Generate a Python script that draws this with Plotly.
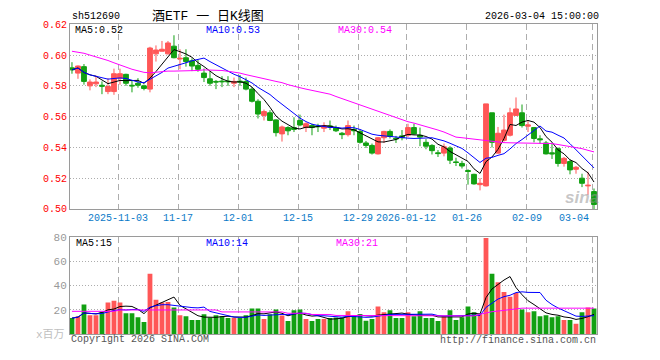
import plotly.graph_objects as go
import pandas as pd

# ---------------- data ----------------
dates = [
    "2025-10-22", "2025-10-23", "2025-10-24", "2025-10-27", "2025-10-28", "2025-10-29", "2025-10-30", "2025-10-31",
    "2025-11-03", "2025-11-04", "2025-11-05", "2025-11-06", "2025-11-07",
    "2025-11-10", "2025-11-11", "2025-11-12", "2025-11-13", "2025-11-14",
    "2025-11-17", "2025-11-18", "2025-11-19", "2025-11-20", "2025-11-21",
    "2025-11-24", "2025-11-25", "2025-11-26", "2025-11-27", "2025-11-28",
    "2025-12-01", "2025-12-02", "2025-12-03", "2025-12-04", "2025-12-05",
    "2025-12-08", "2025-12-09", "2025-12-10", "2025-12-11", "2025-12-12",
    "2025-12-15", "2025-12-16", "2025-12-17", "2025-12-18", "2025-12-19",
    "2025-12-22", "2025-12-23", "2025-12-24", "2025-12-25", "2025-12-26",
    "2025-12-29", "2025-12-30", "2025-12-31",
    "2026-01-05", "2026-01-06", "2026-01-07", "2026-01-08", "2026-01-09",
    "2026-01-12", "2026-01-13", "2026-01-14", "2026-01-15", "2026-01-16",
    "2026-01-19", "2026-01-20", "2026-01-21", "2026-01-22", "2026-01-23",
    "2026-01-26", "2026-01-27", "2026-01-28", "2026-01-29", "2026-01-30",
    "2026-02-02", "2026-02-03", "2026-02-04", "2026-02-05", "2026-02-06",
    "2026-02-09", "2026-02-10", "2026-02-11", "2026-02-12", "2026-02-13",
    "2026-02-24", "2026-02-25", "2026-02-26", "2026-02-27",
    "2026-03-02", "2026-03-03", "2026-03-04",
]

open_ = [0.5917, 0.5883, 0.5925, 0.5800, 0.5813, 0.5804, 0.5763, 0.5763, 0.5850, 0.5875,
         0.5804, 0.5817, 0.5800, 0.5779, 0.6008, 0.6025, 0.6008, 0.6058, 0.5975, 0.5983,
         0.5963, 0.5933, 0.5883, 0.5846, 0.5829, 0.5831, 0.5831, 0.5817, 0.5831, 0.5829,
         0.5779, 0.5700, 0.5608, 0.5625, 0.5579, 0.5488, 0.5529, 0.5529, 0.5575, 0.5529,
         0.5542, 0.5540, 0.5525, 0.5540, 0.5529, 0.5492, 0.5483, 0.5517, 0.5504, 0.5429,
         0.5413, 0.5358, 0.5463, 0.5504, 0.5460, 0.5475, 0.5479, 0.5529, 0.5479, 0.5433,
         0.5413, 0.5365, 0.5363, 0.5396, 0.5306, 0.5296, 0.5250, 0.5225, 0.5158, 0.5150,
         0.5625, 0.5363, 0.5446, 0.5479, 0.5608, 0.5625, 0.5538, 0.5529, 0.5456, 0.5429,
         0.5365, 0.5392, 0.5296, 0.5308, 0.5258, 0.5200, 0.5150, 0.5113]

high = [0.5954, 0.5933, 0.5942, 0.5842, 0.5867, 0.5829, 0.5850, 0.5912, 0.5912, 0.5879,
        0.5838, 0.5850, 0.5808, 0.6054, 0.6063, 0.6092, 0.6092, 0.6129, 0.6038, 0.6038,
        0.5979, 0.5971, 0.5913, 0.5896, 0.5838, 0.5863, 0.5863, 0.5854, 0.5871, 0.5854,
        0.5792, 0.5713, 0.5646, 0.5642, 0.5583, 0.5542, 0.5538, 0.5596, 0.5613, 0.5563,
        0.5554, 0.5554, 0.5563, 0.5575, 0.5542, 0.5500, 0.5575, 0.5542, 0.5517, 0.5442,
        0.5425, 0.5467, 0.5508, 0.5517, 0.5475, 0.5513, 0.5554, 0.5554, 0.5529, 0.5454,
        0.5421, 0.5383, 0.5425, 0.5408, 0.5333, 0.5313, 0.5258, 0.5229, 0.5200, 0.5683,
        0.5625, 0.5533, 0.5613, 0.5658, 0.5725, 0.5679, 0.5571, 0.5533, 0.5479, 0.5442,
        0.5425, 0.5400, 0.5338, 0.5321, 0.5279, 0.5229, 0.5242, 0.5133]

low = [0.5879, 0.5846, 0.5808, 0.5771, 0.5792, 0.5746, 0.5746, 0.5742, 0.5808, 0.5800,
       0.5758, 0.5788, 0.5771, 0.5758, 0.5958, 0.6025, 0.6004, 0.5979, 0.5908, 0.5925,
       0.5896, 0.5892, 0.5825, 0.5800, 0.5779, 0.5792, 0.5800, 0.5792, 0.5800, 0.5771,
       0.5692, 0.5588, 0.5575, 0.5571, 0.5471, 0.5438, 0.5479, 0.5500, 0.5538, 0.5500,
       0.5479, 0.5500, 0.5500, 0.5513, 0.5500, 0.5454, 0.5471, 0.5479, 0.5425, 0.5396,
       0.5354, 0.5354, 0.5429, 0.5458, 0.5429, 0.5446, 0.5467, 0.5483, 0.5408, 0.5388,
       0.5354, 0.5338, 0.5342, 0.5292, 0.5279, 0.5263, 0.5158, 0.5158, 0.5121, 0.5146,
       0.5400, 0.5358, 0.5438, 0.5471, 0.5604, 0.5529, 0.5500, 0.5433, 0.5425, 0.5354,
       0.5325, 0.5275, 0.5275, 0.5225, 0.5229, 0.5142, 0.5092, 0.4996]

close = [0.5904, 0.5929, 0.5829, 0.5825, 0.5825, 0.5798, 0.5796, 0.5879, 0.5879, 0.5817,
         0.5800, 0.5804, 0.5783, 0.6046, 0.6033, 0.6038, 0.6079, 0.5983, 0.5979, 0.5958,
         0.5929, 0.5908, 0.5854, 0.5817, 0.5825, 0.5827, 0.5827, 0.5829, 0.5825, 0.5779,
         0.5700, 0.5617, 0.5633, 0.5575, 0.5496, 0.5533, 0.5508, 0.5517, 0.5546, 0.5554,
         0.5529, 0.5535, 0.5542, 0.5533, 0.5508, 0.5483, 0.5542, 0.5508, 0.5433, 0.5413,
         0.5363, 0.5463, 0.5504, 0.5471, 0.5456, 0.5463, 0.5529, 0.5488, 0.5467, 0.5408,
         0.5379, 0.5360, 0.5404, 0.5317, 0.5302, 0.5279, 0.5244, 0.5163, 0.5167, 0.5683,
         0.5433, 0.5492, 0.5513, 0.5625, 0.5650, 0.5542, 0.5546, 0.5458, 0.5450, 0.5358,
         0.5358, 0.5296, 0.5329, 0.5254, 0.5271, 0.5167, 0.5154, 0.5029]

# volume in millions
volume = [13.2, 14.8, 24.4, 15.6, 15.6, 18.5, 26.0, 27.6, 26.0, 17.2,
          17.2, 14.0, 10.0, 49.8, 28.4, 26.0, 26.5, 22.0, 15.6, 14.8,
          11.7, 11.7, 16.4, 13.8, 15.6, 14.8, 13.2, 13.2, 13.2, 15.6,
          21.2, 21.2, 12.5, 16.4, 20.4, 15.4, 10.9, 19.6, 20.4, 12.5,
          10.9, 12.5, 12.5, 13.2, 13.8, 13.8, 18.8, 15.6, 16.4, 11.1,
          12.5, 22.8, 18.0, 19.6, 13.2, 13.2, 18.0, 14.8, 18.8, 13.2,
          13.2, 10.9, 14.8, 19.6, 11.7, 14.0, 22.8, 18.0, 16.4, 79.2,
          49.8, 42.7, 34.7, 30.7, 33.9, 20.4, 18.0, 18.8, 14.8, 15.6,
          14.0, 14.8, 11.7, 11.7, 8.5, 18.0, 22.0, 21.2]

# 30-day moving averages as drawn (need history before the window)
price_ma30 = [0.6025, 0.6019, 0.6012, 0.6000, 0.5990, 0.5979, 0.5965, 0.5950, 0.5938, 0.5922,
              0.5908, 0.5898, 0.5888, 0.5885, 0.5890, 0.5894, 0.5896, 0.5896, 0.5896, 0.5896,
              0.5898, 0.5900, 0.5904, 0.5904, 0.5902, 0.5900, 0.5895, 0.5890, 0.5883, 0.5873,
              0.5863, 0.5854, 0.5846, 0.5838, 0.5829, 0.5821, 0.5808, 0.5796, 0.5788, 0.5779,
              0.5771, 0.5763, 0.5754, 0.5746, 0.5731, 0.5717, 0.5703, 0.5689, 0.5675, 0.5661,
              0.5647, 0.5633, 0.5619, 0.5604, 0.5592, 0.5579, 0.5567, 0.5558, 0.5548, 0.5538,
              0.5525, 0.5513, 0.5500, 0.5483, 0.5467, 0.5463, 0.5458, 0.5454, 0.5448, 0.5442,
              0.5438, 0.5433, 0.5431, 0.5430, 0.5429, 0.5429, 0.5429, 0.5429, 0.5429, 0.5427,
              0.5425, 0.5419, 0.5413, 0.5406, 0.5399, 0.5392, 0.5381, 0.5371]

vol_ma30 = [18.8, 18.8, 18.8, 18.8, 18.8, 18.8, 18.8, 18.8, 19.9, 19.9,
            19.9, 19.9, 19.9, 19.9, 19.9, 19.9, 19.9, 19.9, 19.9, 19.9,
            19.9, 19.9, 19.9, 19.9, 19.9, 18.3, 18.3, 18.3, 18.3, 18.3,
            18.3, 18.3, 18.3, 18.3, 18.3, 18.3, 17.2, 17.2, 17.2, 17.2,
            16.2, 16.2, 16.2, 16.2, 15.4, 15.4, 15.4, 15.4, 14.8, 14.8,
            14.8, 14.8, 14.8, 14.8, 14.8, 14.8, 14.8, 14.8, 14.8, 14.8,
            14.8, 14.8, 14.8, 14.8, 14.8, 14.8, 14.9, 15.0, 16.4, 17.5,
            18.5, 19.0, 19.6, 20.4, 21.2, 21.4, 21.4, 21.4, 21.4, 21.4,
            21.4, 21.4, 21.4, 21.4, 21.4, 21.4, 21.4, 21.4]

tick_dates = ["2025-11-03", "2025-11-17", "2025-12-01", "2025-12-15", "2025-12-29",
              "2026-01-12", "2026-01-26", "2026-02-09", "2026-03-04"]
tick_labels = ["2025-11-03", "11-17", "12-01", "12-15", "12-29",
               "2026-01-12", "01-26", "02-09", "03-04"]
price_ticks = [0.50, 0.52, 0.54, 0.56, 0.58, 0.60, 0.62]
vol_ticks = [20, 40, 60, 80]

price_legend = ["MA5:0.52", "MA10:0.53", "MA30:0.54"]
vol_legend = ["MA5:15", "MA10:14", "MA30:21"]

# ---------------- styling ----------------
W, H = 660, 360
ML, MR = 70, 63
PW = W - ML - MR
RED = "#ff5757"
GREEN = "#12a012"
GRID = "#adadad"
BORDER = "#9a9a9a"
XBLUE = "#0a7ac8"
MONO = "Liberation Mono, DejaVu Sans Mono, monospace"
CJK = "Liberation Mono, Noto Sans CJK SC, monospace"


def px_x(px):
    return (px - ML) / PW


def px_y(py):
    return 1 - py / H


xs = list(range(len(dates)))
ma5 = pd.Series(close).rolling(5, min_periods=1).mean()
ma10 = pd.Series(close).rolling(10, min_periods=1).mean()
vma5 = pd.Series(volume).rolling(5, min_periods=1).mean()
vma10 = pd.Series(volume).rolling(10, min_periods=1).mean()
vol_colors = [RED if c >= o else GREEN for o, c in zip(open_, close)]

grid_pos = [dates.index(d) - 0.25 for d in tick_dates]

fig = go.Figure()

fig.add_trace(go.Candlestick(
    x=xs, open=open_, high=high, low=low, close=close,
    increasing=dict(line=dict(color=RED, width=1), fillcolor=RED),
    decreasing=dict(line=dict(color=GREEN, width=1), fillcolor=GREEN),
    whiskerwidth=0, showlegend=False, xaxis="x", yaxis="y", hoverinfo="skip",
))
for series, col in [(ma5, "#000000"), (ma10, "#0000ff"), (price_ma30, "#ff00ff")]:
    fig.add_trace(go.Scatter(x=xs, y=list(series), mode="lines",
                             line=dict(color=col, width=1), showlegend=False,
                             xaxis="x", yaxis="y", hoverinfo="skip"))

fig.add_trace(go.Bar(x=xs, y=volume, marker=dict(color=vol_colors, line=dict(width=0)),
                     width=0.8, showlegend=False, xaxis="x2", yaxis="y2", hoverinfo="skip"))
for series, col in [(vma5, "#000000"), (vma10, "#0000ff"), (vol_ma30, "#ff00ff")]:
    fig.add_trace(go.Scatter(x=xs, y=list(series), mode="lines",
                             line=dict(color=col, width=1), showlegend=False,
                             xaxis="x2", yaxis="y2", hoverinfo="skip"))

xcommon = dict(
    range=[-0.33, 87.5], tickvals=grid_pos, showticklabels=False, ticks="",
    showgrid=True, gridcolor=GRID, griddash="6px,4px", gridwidth=1,
    showline=True, mirror=True, linecolor=BORDER, linewidth=1, zeroline=False,
    fixedrange=True,
)

fig.update_layout(
    width=W, height=H,
    margin=dict(l=ML, r=MR, t=0, b=0),
    paper_bgcolor="white", plot_bgcolor="white",
    boxgap=0.2, boxgroupgap=0,
    bargap=0.2,
    xaxis=dict(**xcommon, anchor="y", domain=[0, 1], rangeslider=dict(visible=False)),
    xaxis2=dict(**xcommon, anchor="y2", domain=[0, 1], matches="x"),
    yaxis=dict(
        domain=[px_y(211), px_y(20)], range=[0.50, 0.62],
        tickvals=price_ticks, ticktext=["%.2f" % v for v in price_ticks],
        tickfont=dict(family=MONO, size=10, color="#ff0000"),
        showgrid=True, gridcolor=GRID, griddash="1px,2px", gridwidth=1,
        showline=True, mirror=True, linecolor=BORDER, linewidth=1, zeroline=False,
        ticks="", fixedrange=True,
    ),
    yaxis2=dict(
        domain=[px_y(340.5), px_y(240)], range=[0, 80],
        tickvals=vol_ticks, ticktext=[str(v) for v in vol_ticks],
        tickfont=dict(family=MONO, size=11, color="#999999"),
        showgrid=True, gridcolor=GRID, griddash="1px,2px", gridwidth=1,
        showline=True, mirror=True, linecolor=BORDER, linewidth=1, zeroline=False,
        ticks="", fixedrange=True,
    ),
)

ann = []
# x labels
for i, (pos, lab) in enumerate(zip(grid_pos, tick_labels)):
    last = i == len(tick_labels) - 1
    ann.append(dict(x=pos, xref="x", y=px_y(221), yref="paper", text=lab, showarrow=False,
                    xanchor="right" if last else "center", yanchor="middle",
                    xshift=-2 if last else 0,
                    font=dict(family=MONO, size=10, color=XBLUE)))
# header
ann.append(dict(x=px_x(70), y=px_y(12), xref="paper", yref="paper", text="sh512690",
                showarrow=False, xanchor="left", yanchor="middle",
                font=dict(family=MONO, size=10, color="#000")))
ann.append(dict(x=px_x(150), y=px_y(12), xref="paper", yref="paper", text="酒ETF 一 日K线图",
                showarrow=False, xanchor="left", yanchor="middle",
                font=dict(family=CJK, size=13, color="#000")))
ann.append(dict(x=px_x(601), y=px_y(12), xref="paper", yref="paper", text="2026-03-04 15:00:00",
                showarrow=False, xanchor="right", yanchor="middle",
                font=dict(family=MONO, size=10, color="#000")))
# MA legends
for txt, xp, col in zip(price_legend, [73, 204, 336], ["#000", "#0000ff", "#ff00ff"]):
    ann.append(dict(x=px_x(xp), y=px_y(26.5), xref="paper", yref="paper", text=txt,
                    showarrow=False, xanchor="left", yanchor="middle",
                    font=dict(family=MONO, size=10, color=col)))
for txt, xp, col in zip(vol_legend, [74, 204, 334], ["#000", "#0000ff", "#ff00ff"]):
    ann.append(dict(x=px_x(xp), y=px_y(246.5), xref="paper", yref="paper", text=txt,
                    showarrow=False, xanchor="left", yanchor="middle",
                    font=dict(family=MONO, size=10, color=col)))
# unit & footer
ann.append(dict(x=px_x(67), y=px_y(341), xref="paper", yref="paper", text="x百万",
                showarrow=False, xanchor="right", yanchor="middle",
                font=dict(family=CJK, size=11, color="#c0c0c0")))
ann.append(dict(x=px_x(69), y=px_y(346), xref="paper", yref="paper", text="Copyright 2026 SINA.COM",
                showarrow=False, xanchor="left", yanchor="middle",
                font=dict(family=MONO, size=10, color="#555")))
ann.append(dict(x=px_x(598), y=px_y(347), xref="paper", yref="paper", text="http://finance.sina.com.cn",
                showarrow=False, xanchor="right", yanchor="middle",
                font=dict(family=MONO, size=10, color="#555")))
# watermark
ann.append(dict(x=px_x(582), y=px_y(199), xref="paper", yref="paper", text="<b><i>sina</i></b>",
                showarrow=False, xanchor="center", yanchor="middle",
                font=dict(family="Liberation Sans, Arial", size=17, color="rgba(150,150,150,0.55)")))

fig.update_layout(annotations=ann)

fig.write_html("out.html",
               config={"displayModeBar": False, "staticPlot": True},
               post_script="document.body.style.margin='0';document.body.style.overflow='hidden';")
